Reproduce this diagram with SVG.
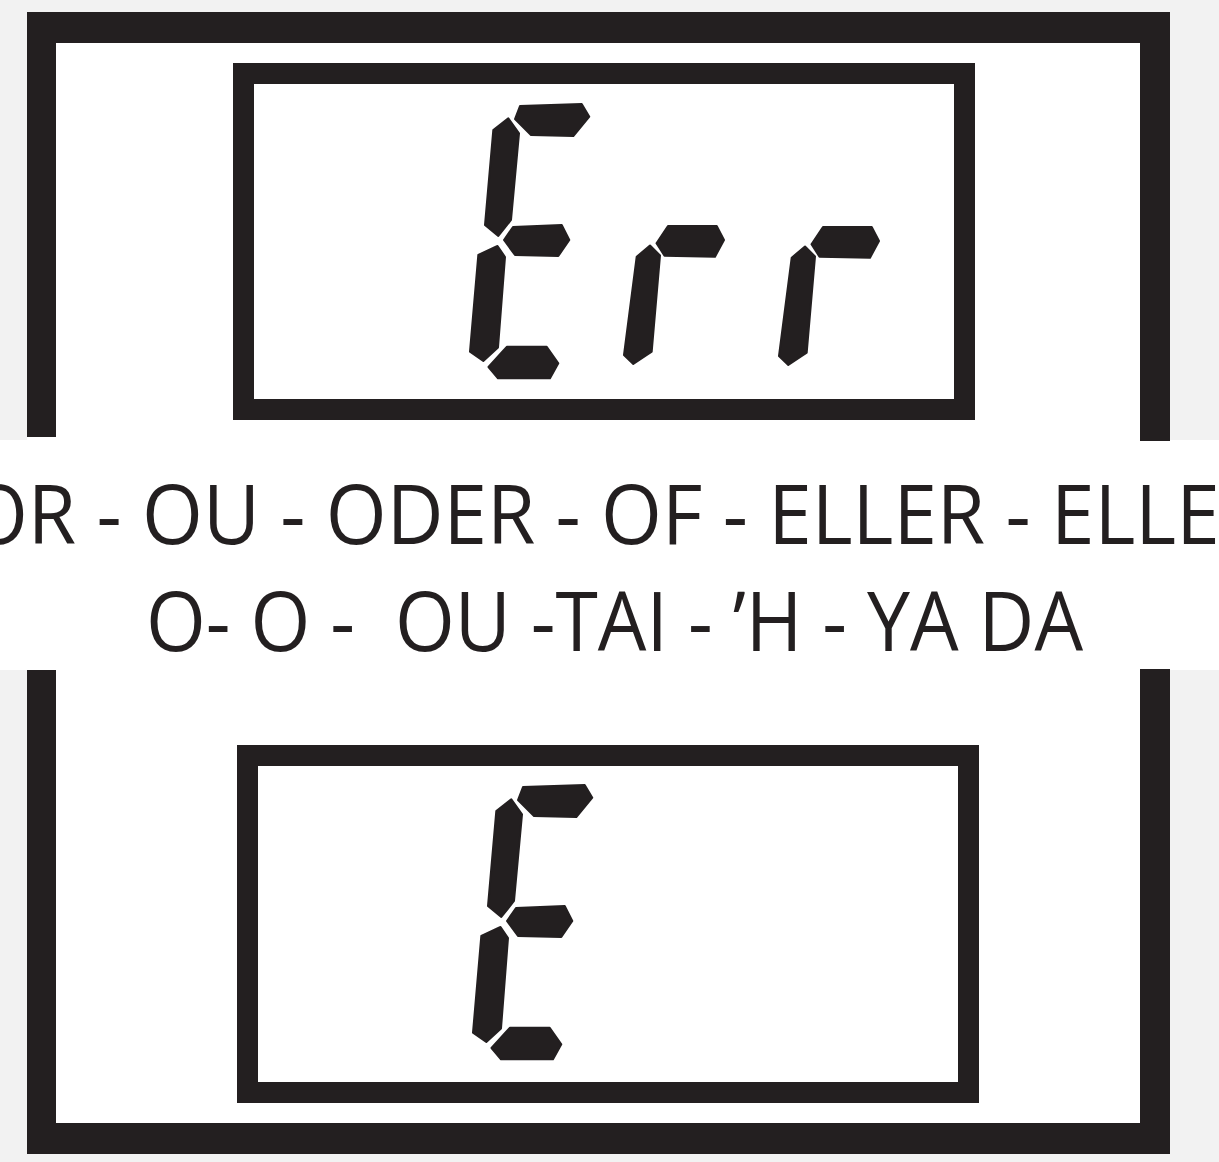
<svg xmlns="http://www.w3.org/2000/svg" width="1219" height="1162" viewBox="0 0 1219 1162">
  <style>
    .ink { fill: #231f20; }
    .seg { fill: #231f20; stroke: #231f20; stroke-width: 2; stroke-linejoin: round; }
    .box { fill: #ffffff; stroke: #231f20; stroke-width: 21; }
    .lbl { font-family: "Open Sans", "Liberation Sans", sans-serif; font-size: 83px; fill: #231f20; }
  </style>
  <defs>
    <g id="segE">
      <polygon points="520,106 581.7,104 589.3,116.7 573.3,136 531,135 515,119"/>
      <polygon points="508.3,118.3 519,133.3 511,220 498.3,236 485,225 493.3,130"/>
      <polygon points="504,240 513,227 561.7,225 569.3,240 558.3,256 515,255"/>
      <polygon points="497.5,246 505,257 498,347.5 483.3,361 470,351.7 478.3,255"/>
      <polygon points="488.5,367 503.5,350.4 507,346.7 546.7,346.7 558.3,363.3 550,378.3 498,378.3"/>
    </g>
    <g id="segR">
      <polygon points="656.5,243.3 668,226 716.7,226 724,240 715,256.7 664.5,255.7"/>
      <polygon points="650,245.5 660,255.5 651.7,351.7 633.3,364 624,355 636.7,256.7"/>
    </g>
  </defs>
  <rect x="0" y="0" width="1219" height="1162" fill="#f2f2f2"/>
  <rect x="27" y="12" width="1143" height="1140" fill="#ffffff"/>
  <rect x="0" y="440" width="1219" height="230" fill="#ffffff"/>

  <g id="top-bracket" class="ink">
    <path d="M27,12 H1170 V441 H1140 V43 H56 V437 H27 Z"/>
  </g>
  <g id="top-display">
    <rect class="box" x="243.5" y="73.5" width="721" height="336"/>
    <g class="seg">
      <use href="#segE"/>
      <use href="#segR"/>
      <use href="#segR" transform="translate(155,1)"/>
    </g>
  </g>

  <g id="caption">
    <text class="lbl" x="-33" y="544" textLength="1301" lengthAdjust="spacingAndGlyphs">OR - OU - ODER - OF - ELLER - ELLER</text>
    <text class="lbl" x="146" y="651" xml:space="preserve" textLength="937" lengthAdjust="spacingAndGlyphs">O- O -  OU -TAI - ’H - YA DA</text>
  </g>

  <g id="bottom-bracket" class="ink">
    <path d="M27,670 H56 V1123 H1140 V669 H1170 V1154 H27 Z"/>
  </g>
  <g id="bottom-display">
    <rect class="box" x="247.5" y="755.5" width="721" height="337"/>
    <g class="seg">
      <use href="#segE" transform="translate(3,681)"/>
    </g>
  </g>
</svg>
